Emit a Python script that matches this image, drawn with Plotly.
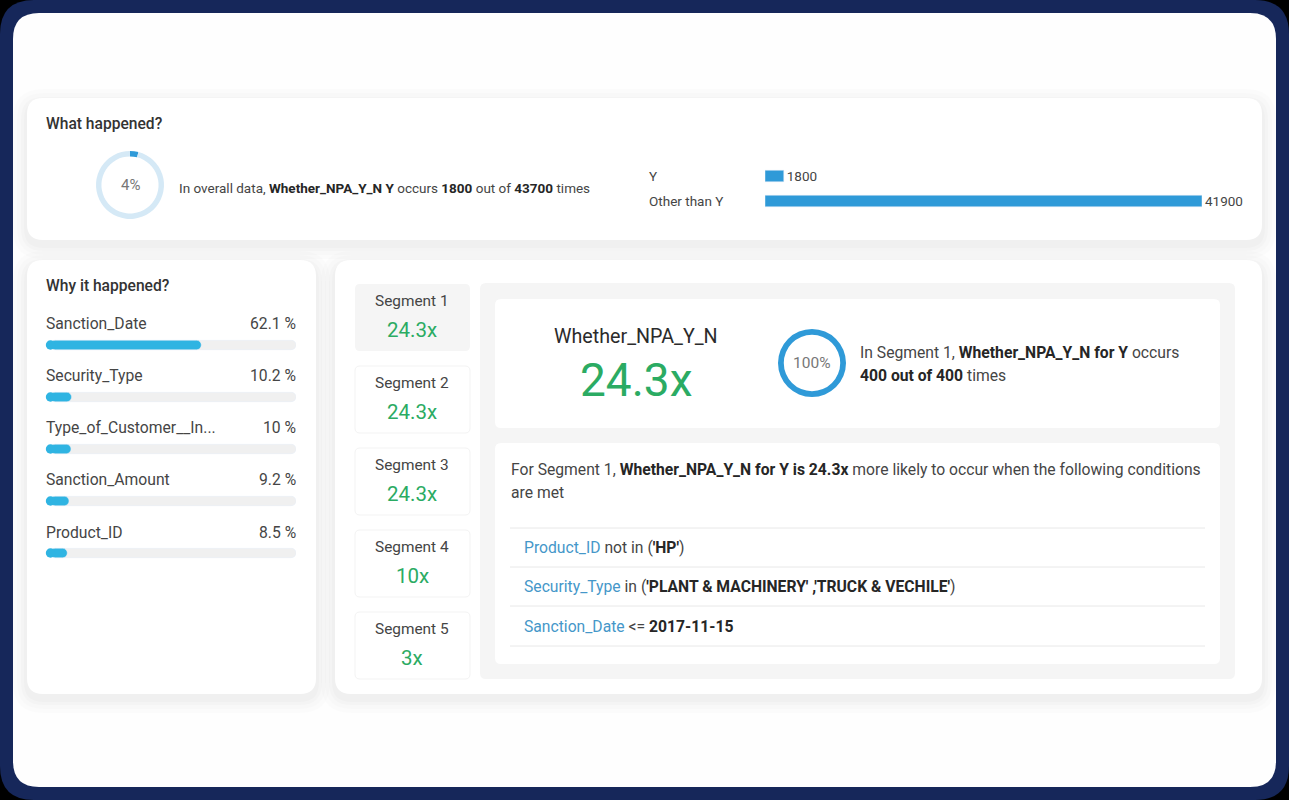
import plotly.graph_objects as go

W, H = 1289, 800

FONT = "Roboto"
DARK = "#2b2b2b"
TEXT = "#454545"
GREEN = "#2bab63"
BLUE = "#2f9ad8"
CYAN = "#2fb4e2"
LINK = "#4597c9"

# overall split
outcome_labels = ["Y", "Other than Y"]
outcome_values = [1800, 41900]
overall_share = [4, 96]
segment_share = [100]

# drivers
driver_names = ["Sanction_Date", "Security_Type", "Type_of_Customer__In...", "Sanction_Amount", "Product_ID"]
driver_values = [62.1, 10.2, 10, 9.2, 8.5]
driver_labels = ["62.1 %", "10.2 %", "10 %", "9.2 %", "8.5 %"]

# segments
segment_names = ["Segment 1", "Segment 2", "Segment 3", "Segment 4", "Segment 5"]
segment_lifts = ["24.3x", "24.3x", "24.3x", "10x", "3x"]

# left end of the progress bars is a round cap, about 4.5px on a 250px axis
CAP = 1.8


def dom_x(a, b):
    return [a / W, b / W]


def dom_y(top, bottom):
    return [1 - bottom / H, 1 - top / H]


def b(text):
    return f"<b><span style='color:#262626'>{text}</span></b>"


def link(text):
    return f"<span style='color:{LINK}'>{text}</span>"


def round_rect(x0, y0, x1, y1, r, fill, line=None, opacity=1):
    path = (
        f"M {x0 + r} {y0} L {x1 - r} {y0} Q {x1} {y0} {x1} {y0 + r} "
        f"L {x1} {y1 - r} Q {x1} {y1} {x1 - r} {y1} "
        f"L {x0 + r} {y1} Q {x0} {y1} {x0} {y1 - r} "
        f"L {x0} {y0 + r} Q {x0} {y0} {x0 + r} {y0} Z"
    )
    return dict(
        type="path", path=path, xref="x", yref="y", fillcolor=fill, opacity=opacity,
        line=dict(color=line or "rgba(0,0,0,0)", width=1 if line else 0), layer="below",
    )


def card(x0, y0, x1, y1, r=16):
    out = []
    for grow, alpha in [(14, 0.010), (10, 0.012), (6, 0.014), (3, 0.016)]:
        out.append(round_rect(x0 - grow, y0 - grow + 5, x1 + grow, y1 + grow + 5, r + grow, "#000000", opacity=alpha))
    out.append(round_rect(x0, y0, x1, y1, r, "#ffffff"))
    return out


def label(x, y, text, size=14, color=TEXT, anchor="left", xref="x", yref="y", yshift=0, weight=400):
    return dict(
        x=x, y=y, xref=xref, yref=yref, text=text, showarrow=False, xanchor=anchor, yanchor="middle",
        yshift=yshift, font=dict(family=FONT, size=size, color=color, weight=weight), borderpad=0, borderwidth=0,
    )


shapes = [
    round_rect(0, 0, W, H, 34, "#16275a"),
    round_rect(13, 13, W - 13, H - 13, 26, "#fefefe"),
]
shapes += card(27, 98, 1262, 240)
shapes += card(27, 260, 316, 694)
shapes += card(335, 260, 1262, 694)
shapes.append(round_rect(480, 283, 1235, 679, 6, "#f5f5f5"))
shapes.append(round_rect(495, 299, 1220, 428, 6, "#ffffff"))
shapes.append(round_rect(495, 443, 1220, 664, 6, "#ffffff"))

seg_tops = [284, 366, 448, 530, 612]
for i, top in enumerate(seg_tops):
    if i == 0:
        shapes.append(round_rect(355, top, 470, top + 67, 5, "#f5f5f5"))
    else:
        shapes.append(round_rect(355, top, 470, top + 67, 5, "#ffffff", line="#f3f3f3"))

for y in [528, 567, 606, 646]:
    shapes.append(dict(type="line", x0=510, x1=1205, y0=y, y1=y, xref="x", yref="y",
                       line=dict(color="#e8e8e8", width=1), layer="below"))

annotations = [
    label(46, 124, "What happened?", 15.6, "#333333", weight=500),
    label(130, 185, "4%", 15, "#777777", "center"),
    label(179, 188, f"In overall data, {b('Whether_NPA_Y_N Y')} occurs {b('1800')} out of {b('43700')} times", 13.5),
    label(46, 286, "Why it happened?", 15.6, "#333333", weight=500),
    label(636, 336, "Whether_NPA_Y_N", 19.7, DARK, "center"),
    label(636, 380, "24.3x", 46, GREEN, "center"),
    label(812, 363, "100%", 15.5, "#777777", "center"),
    label(860, 352, f"In Segment 1, {b('Whether_NPA_Y_N for Y')} occurs", 15.7),
    label(860, 375, f"{b('400 out of 400')} times", 15.7),
    label(511, 469, f"For Segment 1, {b('Whether_NPA_Y_N for Y is 24.3x')} more likely to occur when the following conditions", 15.7),
    label(511, 492, "are met", 15.7),
    label(524, 547, f"{link('Product_ID')} not in ({b(chr(39) + 'HP' + chr(39))})", 15.7),
    label(524, 586, f"{link('Security_Type')} in ({b(chr(39) + 'PLANT &amp; MACHINERY' + chr(39) + ' ,' + chr(39) + 'TRUCK &amp; VECHILE' + chr(39))})", 15.7),
    label(524, 626, f"{link('Sanction_Date')} &lt;= {b('2017-11-15')}", 15.7),
]

for name in outcome_labels:
    annotations.append(label(649, name, name, 13.5, TEXT, yref="y2"))

for name, text in zip(driver_names, driver_labels):
    annotations.append(label(46, name, name, 15.7, TEXT, yref="y3", yshift=21))
    annotations.append(label(296, name, text, 15.7, TEXT, "right", yref="y3", yshift=21))

for top, name, lift in zip(seg_tops, segment_names, segment_lifts):
    annotations.append(label(412, top + 17, name, 15.4, TEXT, "center"))
    annotations.append(label(412, top + 46, lift, 20.5, GREEN, "center"))

fig = go.Figure()

fig.add_trace(go.Bar(
    x=outcome_values, y=outcome_labels, orientation="h", xaxis="x2", yaxis="y2", width=0.46,
    marker=dict(color=BLUE), text=outcome_values, textposition="outside", cliponaxis=False,
    constraintext="none", textfont=dict(family=FONT, size=13.5, color=TEXT),
))

fig.add_trace(go.Bar(
    x=[100 - CAP] * len(driver_names), base=CAP, y=driver_names, orientation="h", xaxis="x3", yaxis="y3", width=0.18,
    marker=dict(color="#f0f0f0", cornerradius=4.6),
))
fig.add_trace(go.Bar(
    x=[v - CAP for v in driver_values], base=CAP, y=driver_names, orientation="h", xaxis="x3", yaxis="y3", width=0.18,
    marker=dict(color=CYAN, cornerradius=4.6),
))
fig.add_trace(go.Scatter(
    x=[CAP] * len(driver_names), y=driver_names, mode="markers", xaxis="x3", yaxis="y3", cliponaxis=False,
    marker=dict(color=CYAN, size=9.4, line=dict(width=0)),
))

fig.add_trace(go.Pie(
    values=overall_share, hole=0.84, sort=False, direction="clockwise", rotation=0, textinfo="none",
    marker=dict(colors=[BLUE, "#d5e9f6"]), domain=dict(x=dom_x(96, 164), y=dom_y(151, 219)),
))
fig.add_trace(go.Pie(
    values=segment_share, hole=0.83, sort=False, textinfo="none",
    marker=dict(colors=[BLUE]), domain=dict(x=dom_x(778, 846), y=dom_y(329, 397)),
))

hidden = dict(visible=False, fixedrange=True)
fig.update_layout(
    width=W, height=H, autosize=False, margin=dict(l=0, r=0, t=0, b=0), showlegend=False,
    paper_bgcolor="#000000", plot_bgcolor="rgba(0,0,0,0)", barmode="overlay",
    font=dict(family=FONT),
    xaxis=dict(range=[0, W], domain=[0, 1], anchor="y", **hidden),
    yaxis=dict(range=[H, 0], domain=[0, 1], anchor="x", **hidden),
    xaxis2=dict(range=[0, 41900], domain=dom_x(765, 1202), anchor="y2", **hidden),
    yaxis2=dict(domain=dom_y(163.5, 213.5), anchor="x2", range=[1.5, -0.5], type="category", **hidden),
    xaxis3=dict(range=[0, 100], domain=dom_x(46, 296), anchor="y3", **hidden),
    yaxis3=dict(domain=dom_y(319, 579), anchor="x3", range=[4.5, -0.5], type="category", **hidden),
    shapes=shapes, annotations=annotations,
)

fig.write_html(
    "out.html",
    config=dict(displayModeBar=False),
    post_script="document.body.style.margin='0';document.body.style.background='#000';",
)
